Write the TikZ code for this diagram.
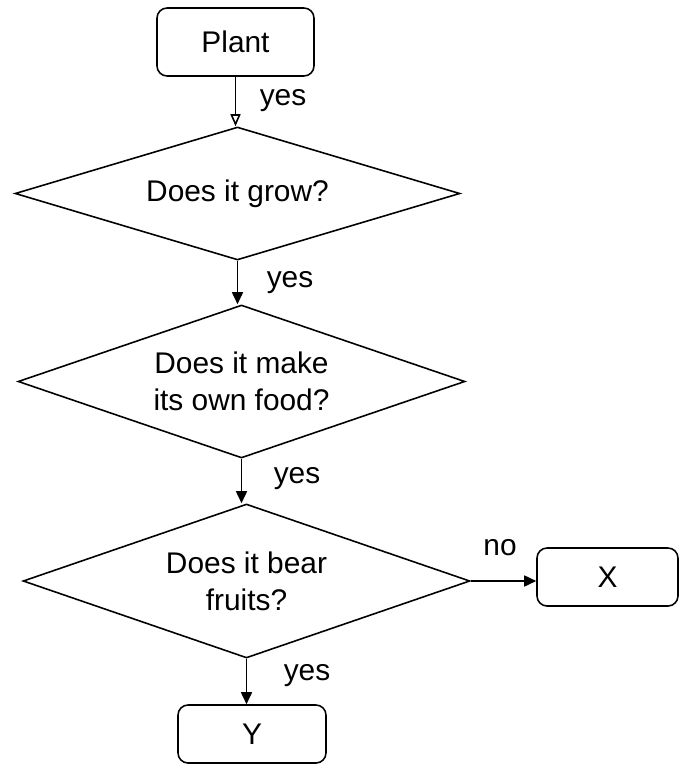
\documentclass[tikz,border=0pt]{standalone}
\usepackage{fontspec}
\setmainfont{Liberation Sans}
\usetikzlibrary{shapes.geometric,arrows.meta}

\begin{document}
\begin{tikzpicture}[x=0.02cm, y=-0.02cm,
    every node/.style={font=\fontsize{17}{21}\selectfont},
    stepbox/.style={draw, line width=0.9pt, rounded corners=0.2cm},
    query/.style={draw, diamond, aspect=3.4, line width=0.9pt, inner sep=0pt, align=center},
    flow/.style={line width=0.9pt, -{Triangle[length=0.24cm, width=0.22cm]}},
    firstflow/.style={line width=0.9pt, -{Triangle[open, length=0.24cm, width=0.2cm]}}]

                \useasboundingbox (0,0) rectangle (680,764);

                % boxes and questions
                \node[stepbox, minimum width=3.14cm, minimum height=1.36cm] (plant) at (235.5,42) {Plant};
                \node[query, minimum width=8.9cm, minimum height=2.66cm] (grow) at (237.5,193.5) {Does it grow?};
                \node[query, minimum width=8.94cm, minimum height=3.06cm] (food) at (241.5,381.5) {Does it make\\its own food?};
                \node[query, minimum width=8.94cm, minimum height=3.08cm] (fruit) at (246.5,581) {Does it bear\\fruits?};
                \node[stepbox, minimum width=2.82cm, minimum height=1.16cm] (x) at (607.5,577) {X};
                \node[stepbox, minimum width=2.96cm, minimum height=1.16cm] (y) at (252,734) {Y};

                % arrows
                \draw[firstflow] (plant.south) -- (plant.south |- grow.north);
                \draw[flow] (grow.south) -- (grow.south |- food.north);
                \draw[flow] (food.south) -- (food.south |- fruit.north);
                \draw[flow] (fruit.east) -- (fruit.east -| x.west);
                \draw[flow] (fruit.south) -- (fruit.south |- y.north);

                % answers
                \node (yes1) at (283,101) {yes};
                \node (yes2) at (290,283) {yes};
                \node (yes3) at (297,479) {yes};
                \node (no) at (500,548) {no};
                \node (yes4) at (307,676) {yes};
            \end{tikzpicture}
\end{document}
